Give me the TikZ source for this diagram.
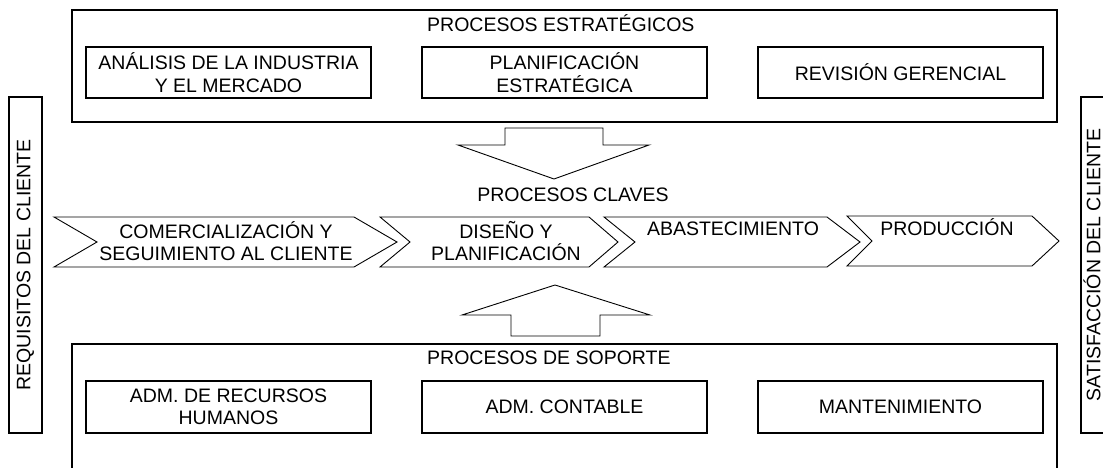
\documentclass[tikz,border=0pt]{standalone}
\usepackage{fontspec}
\setmainfont{Liberation Sans}
\begin{document}
\begin{tikzpicture}[x=1pt,y=-1pt,
  txt/.style={inner sep=0pt, font=\fontsize{19.5}{22.5}\selectfont, align=center},
  frame/.style={draw, line width=1.8pt},
  box/.style={draw, line width=1.8pt},
  thin/.style={draw, line width=0.9pt, line join=miter}]
\useasboundingbox (0,0) rectangle (1103,468);
% outer frames
\draw[frame] (72,10) rectangle (1057,122);
\coordinate (sbl) at (72,475); \coordinate (sbr) at (1057,475);
\draw[frame] (sbl) -- (72,344) -- (1057,344) -- (sbr);
% titles
\node[txt, anchor=west] (tE) at (427,23) {PROCESOS ESTRATÉGICOS};
\node[txt] (tC) at (573,195) {PROCESOS CLAVES};
\node[txt, anchor=west] (tS) at (427,358) {PROCESOS DE SOPORTE};
% top inner boxes
\draw[box] (86,47) rectangle (371,98);
\node[txt] (a1) at (228.5,72.5) {ANÁLISIS DE LA INDUSTRIA\\Y EL MERCADO};
\draw[box] (422,47) rectangle (707,98);
\node[txt] (a2) at (564.5,72.5) {PLANIFICACIÓN\\ESTRATÉGICA};
\draw[box] (758,47) rectangle (1043,98);
\node[txt] (a3) at (900.5,72.5) {REVISIÓN GERENCIAL};
% bottom inner boxes
\draw[box] (86,381) rectangle (371,433);
\node[txt] (b1) at (228.5,407) {ADM. DE RECURSOS\\HUMANOS};
\draw[box] (422,381) rectangle (707,433);
\node[txt] (b2) at (564.5,407) {ADM. CONTABLE};
\draw[box] (758,381) rectangle (1043,433);
\node[txt] (b3) at (900.5,407) {MANTENIMIENTO};
% side boxes
\draw[box] (9,97) rectangle (42,433);
\node[txt, rotate=90] (req) at (25.5,265) {REQUISITOS DEL CLIENTE};
\draw[box] (1081,97) rectangle (1112,433);
\node[txt, rotate=90] (sat) at (1092,265) {SATISFACCIÓN DEL CLIENTE};
% block arrows
\draw[thin] (505,128) -- (603,128) -- (603,145) -- (649,145) -- (554,179) -- (458,145) -- (505,145) -- cycle;
\draw[thin] (555,285) -- (650,315) -- (600,315) -- (600,336) -- (511,336) -- (511,315) -- (462,315) -- cycle;
% chevrons
\draw[thin] (54,217) -- (354,217) -- (397,242) -- (354,267) -- (54,267) -- (97,242) -- cycle;
\draw[thin] (380,217) -- (589,217) -- (618,242) -- (589,267) -- (380,267) -- (410,242) -- cycle;
\draw[thin] (604,217) -- (827,217) -- (860,242) -- (827,267) -- (604,267) -- (635,242) -- cycle;
\draw[thin] (847,216) -- (1032,216) -- (1059,241) -- (1032,266) -- (847,266) -- (872,241) -- cycle;
\node[txt] (c1) at (226,241) {COMERCIALIZACIÓN Y\\SEGUIMIENTO AL CLIENTE};
\node[txt] (c2) at (506,241) {DISEÑO Y\\PLANIFICACIÓN};
\node[txt] (c3) at (733,229) {ABASTECIMIENTO};
\node[txt] (c4) at (947,227) {PRODUCCIÓN};
\end{tikzpicture}
\end{document}
